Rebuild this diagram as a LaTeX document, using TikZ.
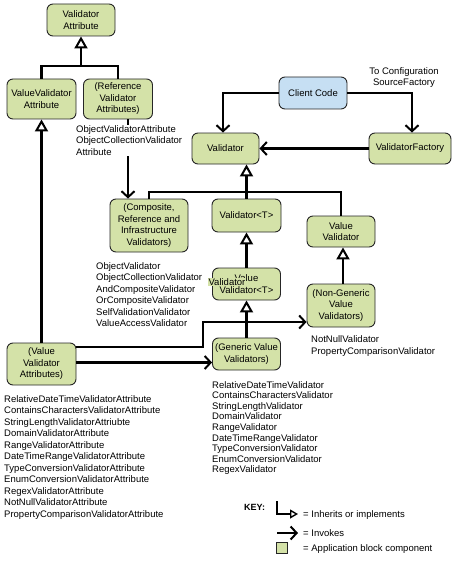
\documentclass[tikz,border=0pt]{standalone}
\usepackage{fontspec}
\setmainfont{Liberation Sans}
\usetikzlibrary{arrows.meta}
\definecolor{boxgreen}{HTML}{D4E2A8}
\definecolor{boxblue}{HTML}{C6DFF3}
\begin{document}
\begin{tikzpicture}[x=1pt,y=-1pt,
  font=\fontsize{9.5}{11.5}\selectfont,
  comp/.style={draw=black!85, line width=0.9pt, fill=boxgreen, rounded corners=6pt, align=center, inner sep=1pt},
  conn/.style={line width=2.2pt},
  inh/.style={line width=2.2pt, -{Triangle[open,length=12pt,width=13pt,line width=2pt]}},
  inv/.style={line width=2.2pt, -{Straight Barb[length=6pt,width=13pt,line width=2pt]}},
  lst/.style={align=left, anchor=north west, inner sep=0pt},
]
\useasboundingbox (0,0) rectangle (454,567);

% nodes
\node[comp, minimum width=68, minimum height=32] (va) at (81,20) {Validator\\Attribute};
\node[comp, minimum width=69, minimum height=40] (vva) at (41.5,99) {ValueValidator\\Attribute};
\node[comp, minimum width=69, minimum height=40] (rva) at (118,99) {(Reference\\Validator\\Attributes)};
\node[comp, fill=boxblue, minimum width=68, minimum height=32] (cc) at (313,93) {Client Code};
\node[comp, minimum width=67, minimum height=31] (v) at (225.5,148.5) {Validator};
\node[comp, minimum width=82, minimum height=31] (vf) at (410,148.5) {ValidatorFactory};
\node[comp, minimum width=78, minimum height=53] (cri) at (149,225.5) {(Composite,\\Reference and\\Infrastructure\\Validators)};
\node[comp, minimum width=69, minimum height=33] (vt) at (246.5,215.5) {Validator<T>};
\node[comp, minimum width=68, minimum height=31] (vv) at (341,231.5) {Value\\Validator};
\node[comp, minimum width=68, minimum height=32] (vvt) at (246.5,284) {Value\\Validator<T>};
\node[fill=boxgreen, inner sep=0.6pt] (ovl) at (227,282) {Validator};
\node[comp, minimum width=68, minimum height=43] (ng) at (341,305.5) {(Non-Generic\\Value\\Validators)};
\node[comp, minimum width=68, minimum height=32] (gv) at (246.5,354) {(Generic Value\\Validators)};
\node[comp, minimum width=69, minimum height=42] (vvas) at (41.5,364) {(Value\\Validator\\Attributes)};

% attribute hierarchy
\coordinate (j1) at (81,66);
\draw[conn] (vva.north) |- (j1) -| (rva.north);
\draw[inh] (j1) -- (va.south);
\draw[inh] (vvas.north) -- (vva.south);

% reference attributes -> composite validators
\draw[inv] ([xshift=10pt]rva.south) -- ([xshift=10pt]rva.south |- cri.north);
\node[lst, fill=white, font=\fontsize{9.5}{11.8}\selectfont] (rvatxt) at (76,125) {ObjectValidatorAttribute\\ObjectCollectionValidator\\Attribute};

% client code
\draw[inv] (cc.west) -| ([xshift=-2.5pt]v.north);
\draw[inv] (cc.east) -| ([xshift=2pt]vf.north);
\draw[inv] (vf.west) -- (v.east);
\node[align=center, inner sep=0pt, font=\fontsize{9.5}{11}\selectfont] (cfg) at (404,77.8) {To Configuration\\SourceFactory};

% validator hierarchy
\coordinate (j2) at (341,192);
\draw[conn] (cri.north) |- (j2) -- (vv.north);
\draw[inh] (vt.north) -- (vt.north |- v.south);
\draw[inh] (vvt.north) -- (vt.south);
\draw[inh] ([xshift=2pt]ng.north) -- ([xshift=2pt]ng.north |- vv.south);
\draw[inh] (gv.north) -- (vvt.south);

% value validator attributes -> validators
\coordinate (a1) at (203,347);
\coordinate (a2) at (203,322);
\coordinate (a3) at (0,362.5);
\draw[inv] (vvas.east |- a1) -- (a1) -- (a2) -- (ng.west |- a2);
\draw[inv] (vvas.east |- a3) -- (gv.west |- a3);

% lists
\node[lst] (crilist) at (96,262) {ObjectValidator\\ObjectCollectionValidator\\AndCompositeValidator\\OrCompositeValidator\\SelfValidationValidator\\ValueAccessValidator};
\node[lst, font=\fontsize{9.5}{12.7}\selectfont] (nglist) at (311,335) {NotNullValidator\\PropertyComparisonValidator};
\node[lst, font=\fontsize{9.5}{10.6}\selectfont] (gvlist) at (212,381) {RelativeDateTimeValidator\\ContainsCharactersValidator\\StringLengthValidator\\DomainValidator\\RangeValidator\\DateTimeRangeValidator\\TypeConversionValidator\\EnumConversionValidator\\RegexValidator};
\node[lst] (attlist) at (4,395) {RelativeDateTimeValidatorAttribute\\ContainsCharactersValidatorAttribute\\StringLengthValidatorAttriubte\\DomainValidatorAttribute\\RangeValidatorAttribute\\DateTimeRangeValidatorAttribute\\TypeConversionValidatorAttribute\\EnumConversionValidatorAttribute\\RegexValidatorAttribute\\NotNullValidatorAttribute\\PropertyComparisonValidatorAttribute};

% key
\node[anchor=west, inner sep=0pt, font=\fontsize{9}{11}\bfseries] (key) at (244,507) {KEY:};
\coordinate (k1) at (277,501);
\coordinate (k2) at (277,514);
\coordinate (k3) at (298,514);
\draw[line width=1.6pt, -{Triangle[open,length=8pt,width=9pt,line width=1.4pt]}] (k1) -- (k2) -- (k3);
\node[anchor=west, inner sep=0pt] (kinh) at (303,515.5) {= Inherits or implements};
\coordinate (k4) at (277,533);
\coordinate (k5) at (298,533);
\draw[inv] (k4) -- (k5);
\node[anchor=west, inner sep=0pt] (kinv) at (303,533.5) {= Invokes};
\node[draw=black!85, line width=0.6pt, fill=boxgreen, minimum size=11, inner sep=0pt] (ksq) at (282,548) {};
\node[anchor=west, inner sep=0pt] (kapp) at (303,549) {= Application block component};
\end{tikzpicture}
\end{document}
